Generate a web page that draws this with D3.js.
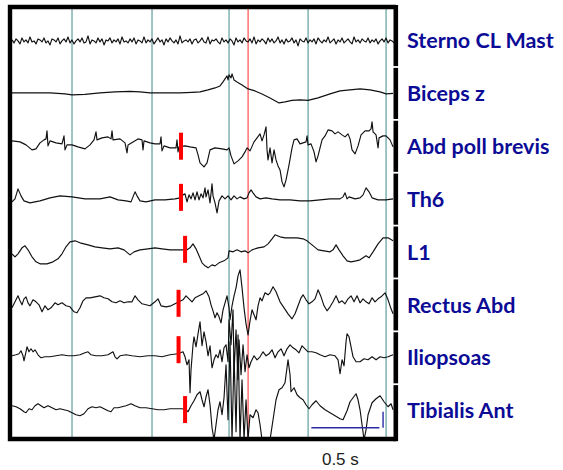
<!DOCTYPE html>
<html>
<head>
<meta charset="utf-8">
<style>
    body { margin: 0; background: #fff; }
    svg { display: block; }
</style>
<script src="https://d3js.org/d3.v7.min.js"></script>
</head>
<body>
<script>
// channel names, top to bottom
const channels = ["Sterno CL Mast", "Biceps z", "Abd poll brevis", "Th6", "L1", "Rectus Abd", "Iliopsoas", "Tibialis Ant"];
// resting level of each trace inside its row (a.u.)
const dcOffsets = [-0.5, 0.4, 1.3, 0.2, 2.1, 3.0, 2.9, 3.8];

const sampleMs = 7.35;      // one sample = 7.35 ms
const totalMs = 2800;

// Sterno CL Mast: evenly sampled, every 2nd sample
const sternoStep = 2;
const sternoVals = [
    1,-2,2,0,-3,3,-1,1,-2,4,-1,0,-3,2,1,-1,3,-2,0,-4,2,1,-1,3,-3,0,2,-1,4,-2,
    1,-3,0,2,-1,3,-2,-1,5,-3,1,0,-2,3,-1,2,-4,1,0,3,-2,1,-1,2,-3,4,-1,0,-2,2,
    -1,3,-3,1,0,-2,4,-2,1,-1,2,-3,0,3,-1,1,-4,2,-1,3,0,-2,1,-3,5,-2,0,1,-1,2,
    -3,1,2,-2,0,3,-1,-2,4,-3,1,0,2,-1,-3,3,-1,1,-2,2,0,-4,3,-1,1,-2,3,0,-1,2,
    -2,4,-3,1,-1,2,0,-3,3,-1,2,-2,0,4,-2,1,-3,2,-1,0,3,-2,1,-5,2,0,-1,3,-2,1,
    -1,2,-3,3,0,-2,1,-1,4,-2,0,2,-3,1,-1,3,-2,0,2,-1,-3,4,-1,1,-2,2,0,-1,3,-2,
    1,-1,2,-3,0,2,-1,3,-2,1,0,-2
];

// [sample, value] pairs
const bicepsTrace = [[0,0],[18,0],[38,0],[53,-1],[60,-2],[73,-1.5],[88,0],[103,1],[118,1.5],[128,1],[138,0],[153,0],[168,0],[180,0.5],[188,1],[196,3],[203,5],[208,7],[211,11],[213,14],[215,17],[216,13],[217,18],[219,15],[220,19],[222,13],[225,11],[230,8],[236,4],[243,2],[250,-1],[258,-5],[267,-10],[273,-9],[280,-7.5],[288,-7],[296,-7.5],[306,-5],[318,-1],[328,2],[338,3],[348,4],[358,3],[368,1],[374,-1],[381,-0.5]];

const abdPollTrace = [[0,4],[8,3],[14,0],[20,-5],[24,-4],[28,2],[32,5],[34,6],[35,14],[36,-1],[38,4],[44,2],[50,1],[52,9],[53,-5],[55,0],[60,0],[66,-2],[73,-4],[78,0],[82,5],[84,13],[85,5],[90,7],[96,8],[99,6],[100,14],[101,5],[108,6],[113,2],[115,-8],[116,0],[121,3],[126,6],[130,5],[131,-5],[132,4],[138,2],[143,1],[148,1],[149,8],[150,-6],[152,-1],[158,-3],[164,-3],[165,5],[166,-7],[167,-2],[173,-1],[178,-2],[184,-3],[186,-10],[188,-18],[192,-22],[195,-18],[198,-5],[203,-3],[210,-4],[215,-5],[217,-3],[219,-11],[222,-19],[226,-16],[230,-12],[233,-7],[235,-3],[238,-6],[242,3],[245,7],[248,11],[250,4],[252,10],[254,18],[255,-5],[256,-15],[258,-3],[260,-18],[262,-5],[264,-15],[266,-21],[268,-25],[270,-37],[272,-42],[274,-35],[277,-20],[280,-3],[282,5],[285,6],[288,1],[291,2],[294,3],[295,9],[296,0],[299,1],[302,-7],[304,-17],[306,-11],[308,-3],[310,5],[313,9],[316,15],[320,14],[323,11],[326,13],[330,10],[333,8],[336,11],[338,6],[340,-5],[343,-9],[346,-1],[349,10],[353,14],[357,14],[359,16],[360,23],[361,13],[364,10],[366,-3],[367,7],[371,9],[374,9],[378,5],[381,-2]];

const th6Trace = [[0,-3],[3,0],[6,10],[9,3],[12,-2],[18,-4],[28,-2],[38,1],[48,3],[60,2],[73,0],[88,0],[98,2],[106,-1],[114,-2],[119,-3],[123,7],[125,3],[128,-2],[134,-3],[143,-1],[153,-1],[163,0],[168,1],[171,4],[173,5],[175,-3],[177,4],[179,0],[181,6],[183,-1],[185,7],[187,-1],[189,5],[191,1],[193,11],[194,2],[196,9],[198,-4],[200,15],[201,3],[203,-4],[205,-14],[207,-2],[210,3],[213,0],[216,3],[219,-1],[222,3],[225,0],[228,2],[232,0],[235,1],[237,6],[239,9],[241,6],[244,2],[248,0],[254,1],[260,0],[268,-1],[278,-1],[288,-2],[298,-2],[308,-1],[318,0],[328,0],[331,2],[333,6],[335,0],[337,2],[343,0],[348,1],[351,4],[354,11],[357,7],[360,1],[366,-1],[374,-1],[381,0]];

const l1Trace = [[0,-4],[3,-7],[6,-4],[10,2],[13,4],[16,0],[20,-7],[24,-12],[28,-14],[35,-14],[41,-12],[46,-9],[50,-4],[54,3],[58,8],[63,9],[68,7],[76,5],[83,3],[90,2],[98,1],[106,2],[112,0],[118,-5],[122,-2],[128,0],[136,1],[143,2],[150,1],[158,0],[165,0],[171,0],[175,0],[178,2],[181,6],[184,1],[187,-6],[190,-13],[193,-16],[196,-18],[200,-15],[203,-16],[207,-13],[212,-11],[216,-8],[217,-1],[221,-2],[225,0],[229,-2],[233,-1],[236,-3],[240,0],[246,2],[252,3],[256,6],[260,11],[263,15],[268,13],[273,12],[278,12],[285,12],[291,11],[295,9],[300,5],[306,0],[312,-1],[318,-2],[321,0],[324,5],[327,0],[331,-6],[335,-11],[339,-12],[344,-11],[348,-10],[351,-8],[354,-6],[357,-8],[361,-2],[366,6],[371,12],[376,12],[381,9]];

const rectusTrace = [[0,-6],[3,0],[6,6],[8,1],[10,-3],[12,3],[14,5],[16,-1],[18,-4],[21,2],[24,0],[27,-3],[30,-10],[33,-4],[36,-8],[39,-6],[43,-1],[46,-3],[50,-1],[54,-4],[58,-5],[62,-10],[65,-11],[68,-6],[71,1],[74,4],[78,4],[83,5],[88,6],[92,4],[96,3],[100,0],[104,-1],[108,1],[112,-1],[116,0],[120,0],[123,6],[126,2],[130,-2],[134,-3],[138,-4],[143,0],[146,3],[149,-4],[154,-5],[159,-4],[163,-2],[167,0],[171,2],[174,6],[177,3],[180,0],[183,4],[187,6],[191,8],[194,11],[197,5],[199,-3],[201,-9],[203,-16],[205,-11],[207,-15],[209,-21],[211,-8],[213,-1],[215,6],[217,-6],[218,-18],[220,-4],[222,6],[224,14],[226,26],[228,32],[230,14],[232,-6],[234,-22],[236,-33],[238,-19],[240,-8],[242,-13],[244,-18],[246,-4],[248,4],[250,1],[253,9],[256,7],[258,9],[261,15],[264,10],[268,0],[272,-6],[276,-12],[280,-17],[283,-12],[286,-4],[289,4],[291,7],[294,2],[297,-2],[300,0],[303,3],[306,12],[309,5],[312,-4],[315,-9],[318,-5],[321,0],[324,6],[327,-1],[330,1],[333,-2],[336,3],[339,6],[342,0],[345,6],[348,-1],[351,3],[354,0],[357,-2],[360,4],[363,0],[366,3],[369,5],[373,9],[376,2],[379,-7],[381,-12]];

const iliopsoasTrace = [[0,-1],[4,0],[7,1],[9,4],[11,-1],[12,-6],[14,3],[15,8],[17,3],[19,6],[21,3],[23,5],[26,0],[29,-3],[33,-2],[38,-2],[44,-1],[50,0],[56,-1],[62,-1],[68,0],[73,2],[76,3],[79,0],[84,-1],[90,-1],[96,0],[101,3],[103,-2],[105,-4],[108,-1],[114,0],[120,-1],[128,-2],[136,-1],[143,-1],[150,-2],[158,0],[166,1],[171,3],[173,-2],[175,-10],[177,-5],[178,-38],[179,-15],[181,10],[182,18],[184,8],[186,21],[188,33],[190,9],[192,23],[194,13],[196,-1],[198,9],[200,-13],[202,-5],[204,0],[206,-3],[208,5],[210,-7],[212,7],[214,10],[216,-7],[217,35],[219,10],[221,45],[222,-17],[224,25],[226,-25],[227,15],[229,-20],[231,10],[233,-17],[235,0],[237,-13],[239,-7],[242,-1],[245,-5],[248,-2],[251,3],[254,-1],[257,1],[260,5],[263,-3],[266,3],[269,6],[272,-1],[275,6],[278,10],[281,7],[284,5],[287,2],[290,9],[293,6],[296,3],[300,3],[304,2],[308,0],[313,-2],[318,0],[323,-1],[326,-5],[328,-19],[330,-5],[332,-11],[334,13],[335,21],[337,18],[339,8],[341,-2],[344,-7],[348,-7],[352,-4],[356,-5],[360,-2],[364,-5],[368,-2],[372,-3],[376,-2],[381,0]];

const tibialisTrace = [[0,1],[4,0],[8,-2],[12,-5],[14,-6],[17,-2],[20,-3],[23,1],[26,3],[29,1],[32,-1],[36,1],[40,-1],[44,-3],[48,-2],[52,-3],[56,-4],[60,-6],[64,-8],[68,-9],[72,-7],[76,-2],[80,0],[84,-1],[88,0],[92,-2],[96,-4],[99,-5],[102,-1],[106,-1],[110,0],[114,1],[119,3],[123,1],[128,-1],[134,-1],[140,-2],[146,-3],[152,-3],[158,-2],[164,-2],[170,-2],[174,-3],[176,-5],[179,1],[182,6],[185,12],[188,15],[190,7],[192,0],[194,10],[196,17],[198,2],[200,-21],[202,-33],[204,-18],[206,-3],[208,5],[210,-8],[212,9],[214,42],[216,-13],[218,65],[220,-33],[222,52],[224,-25],[226,72],[228,-33],[230,27],[232,-33],[234,7],[236,-33],[238,-8],[241,-11],[244,-3],[246,-6],[248,-18],[250,-33],[254,-33],[258,-33],[261,-13],[264,7],[267,17],[270,19],[273,24],[276,47],[278,32],[279,15],[282,19],[285,12],[288,9],[291,7],[294,2],[297,-2],[300,2],[304,6],[308,1],[313,-3],[318,-6],[323,-9],[328,-12],[331,-13],[335,-4],[338,5],[341,9],[344,13],[346,7],[348,-3],[350,-18],[352,-33],[354,-23],[356,-8],[360,4],[364,8],[368,11],[372,5],[376,0],[379,3],[381,-3]];

// vertical grid lines and the red reference line (ms)
const gridMs = [441, 1029, 1595, 2176, 2749];
const refMs = 1735;

// onset markers: channel, time (ms), level (a.u.)
const markerChannels = ["Abd poll brevis", "Th6", "L1", "Rectus Abd", "Iliopsoas", "Tibialis Ant"];
const markerMs = [1242, 1242, 1272, 1224, 1224, 1272];
const markerLevel = [0, 1.7, 2.6, 1.5, 8, 1];

// calibration
const barStartMs = 2200, barLenMs = 500, barLabel = "0.5 s";
const calMs = 2727, calFrom = -1.2, calTo = -17.2;

const w = 563, h = 470;
const svg = d3.select("body").append("svg").attr("width", w).attr("height", h);

const x = d3.scaleLinear().domain([0, totalMs]).range([12, 393]);
const rows = d3.scaleBand().domain(channels).range([14, 437]);
const bw = rows.bandwidth();
const amp = d3.scaleLinear().domain([-bw / 2, bw / 2]).range([bw / 2, -bw / 2]);
const rowY = (name, v) => rows(name) + bw / 2 + amp(v + dcOffsets[channels.indexOf(name)]);

svg.append("defs").append("clipPath").attr("id", "plot")
    .append("rect").attr("x", 12).attr("y", 9).attr("width", 382).attr("height", 428);

// grid
svg.selectAll("line.grid")
    .data(gridMs)
    .enter()
    .append("line")
    .attr("class", "grid")
    .attr("x1", d => x(d)).attr("x2", d => x(d))
    .attr("y1", 9).attr("y2", 437)
    .attr("stroke", "#5f9f9d")
    .attr("stroke-width", 1.2);

svg.append("line")
    .attr("x1", x(refMs)).attr("x2", x(refMs))
    .attr("y1", 9).attr("y2", 437)
    .attr("stroke", "#ff2a2a")
    .attr("stroke-width", 1);

// traces
const traces = [
    sternoVals.map((v, i) => [i * sternoStep, v]),
    bicepsTrace, abdPollTrace, th6Trace, l1Trace, rectusTrace, iliopsoasTrace, tibialisTrace
];

const g = svg.append("g").attr("clip-path", "url(#plot)");
traces.forEach((tr, i) => {
    const name = channels[i];
    const line = d3.line()
        .x(d => x(d[0] * sampleMs))
        .y(d => rowY(name, d[1]));
    g.append("path")
        .datum(tr)
        .attr("d", line)
        .attr("fill", "none")
        .attr("stroke", "#111")
        .attr("stroke-width", 1.15)
        .attr("stroke-linejoin", "round");
});

// onset markers
g.selectAll("rect.marker")
    .data(markerChannels)
    .enter()
    .append("rect")
    .attr("class", "marker")
    .attr("x", (d, i) => x(markerMs[i]) - 2)
    .attr("y", (d, i) => rowY(d, markerLevel[i] - dcOffsets[channels.indexOf(d)]) - 13.5)
    .attr("width", 4)
    .attr("height", 27)
    .attr("fill", "#ff0000");

// frame
svg.append("path")
    .attr("d", `M396,7 H10 V439 H396`)
    .attr("fill", "none")
    .attr("stroke", "#000")
    .attr("stroke-width", 4.4);

svg.selectAll("rect.side")
    .data(channels)
    .enter()
    .append("rect")
    .attr("class", "side")
    .attr("x", 393.5)
    .attr("y", (d, i) => i === 0 ? 5 : rows(d) + 1)
    .attr("width", 4.6)
    .attr("height", (d, i) => {
        const top = i === 0 ? 5 : rows(d) + 1;
        const bot = i === channels.length - 1 ? 441.2 : rows(d) + bw - 0.8;
        return bot - top;
    })
    .attr("fill", "#000");

// channel labels
svg.selectAll("text.label")
    .data(channels)
    .enter()
    .append("text")
    .attr("class", "label")
    .attr("x", 407)
    .attr("y", d => rows(d) + bw / 2)
    .attr("dy", "0.36em")
    .attr("font-family", "Lato, 'Open Sans', sans-serif")
    .attr("font-weight", "bold")
    .attr("font-size", 21.5)
    .attr("fill", "#0b0b96")
    .text(d => d);

// scale bars
const tib = "Tibialis Ant";
svg.append("line")
    .attr("x1", x(barStartMs)).attr("x2", x(barStartMs + barLenMs))
    .attr("y1", rowY(tib, calTo - dcOffsets[7])).attr("y2", rowY(tib, calTo - dcOffsets[7]))
    .attr("stroke", "#2a2aa8").attr("stroke-width", 1.4);
svg.append("line")
    .attr("x1", x(calMs)).attr("x2", x(calMs))
    .attr("y1", rowY(tib, calFrom - dcOffsets[7])).attr("y2", rowY(tib, calTo - dcOffsets[7]))
    .attr("stroke", "#2a2aa8").attr("stroke-width", 1.4);

svg.append("text")
    .attr("x", x(barStartMs + barLenMs / 2) - 5)
    .attr("y", 465)
    .attr("text-anchor", "middle")
    .attr("font-family", "'Liberation Sans', Arial, sans-serif")
    .attr("font-size", 17)
    .attr("fill", "#222")
    .text(barLabel);
</script>
</body>
</html>
